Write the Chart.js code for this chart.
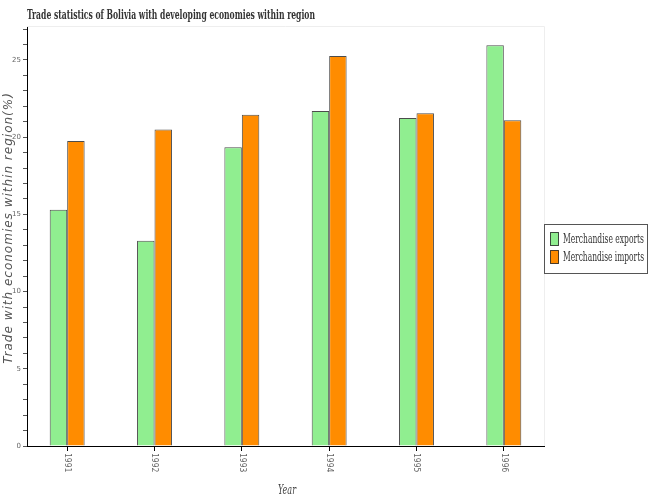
<!DOCTYPE html>
<html>
<head>
<meta charset="utf-8">
<script src="https://cdn.jsdelivr.net/npm/chart.js@4"></script>
<style>
  body { margin: 0; background: #fff; }
  #wrap { width: 650px; height: 500px; }
</style>
</head>
<body>
<div id="wrap"><canvas id="grafico" width="650" height="500"></canvas></div>
<script>
// dados
var anos = [1991, 1992, 1993, 1994, 1995, 1996];
var exportacoes = [15.3, 13.3, 19.35, 21.7, 21.25, 25.95];
var importacoes = [19.75, 20.5, 21.45, 25.25, 21.55, 21.1];
var nomesSeries = ['Merchandise exports', 'Merchandise imports'];
var titulo = 'Trade statistics of Bolivia with developing economies within region';
var tituloX = 'Year';
var tituloY = 'Trade with economies within region(%)';

var coresSeries = ['#90ee90', '#ff8c00'];
var bordaBarra = 'rgba(0, 0, 0, 0.7)';

function pontos(valores) {
    return anos.map(function (ano, i) { return { x: ano, y: valores[i] }; });
}

// escreve um texto condensado horizontalmente se passar da largura
function textoCondensado(ctx, texto, x, y, largura) {
    ctx.fontStretch = 'condensed';
    var w = ctx.measureText(texto).width;
    var k = w > largura ? largura / w : 1;
    ctx.save();
    ctx.translate(x, y);
    ctx.scale(k, 1);
    ctx.fillText(texto, 0, 0);
    ctx.restore();
}

// desenha textos, moldura e legenda
var textos = {
    id: 'textos',
    afterDraw: function (chart) {
        var ctx = chart.ctx;
        var area = chart.chartArea;
        var escalaX = chart.scales.x;
        ctx.save();

        // moldura clara em cima e a direita
        ctx.strokeStyle = '#eeeeee';
        ctx.lineWidth = 1;
        ctx.beginPath();
        ctx.moveTo(area.left, area.top + 0.5);
        ctx.lineTo(area.right + 0.5, area.top + 0.5);
        ctx.lineTo(area.right + 0.5, area.bottom);
        ctx.stroke();

        // titulo
        ctx.fillStyle = '#333';
        ctx.font = 'bold 13px "DejaVu Serif"';
        ctx.textAlign = 'left';
        ctx.textBaseline = 'alphabetic';
        textoCondensado(ctx, titulo, area.left, 19, 288);

        // rotulos do eixo x (rodados para baixo)
        ctx.fillStyle = '#666';
        ctx.font = '8px "DejaVu Sans Mono", monospace';
        for (let i = 0; i < anos.length; i++) {
            var px = escalaX.getPixelForValue(anos[i]);
            ctx.save();
            ctx.translate(px, area.bottom + 7);
            ctx.rotate(Math.PI / 2);
            ctx.textAlign = 'left';
            ctx.textBaseline = 'middle';
            ctx.fillText(String(anos[i]), 0, 0);
            ctx.restore();
        }

        // titulo do eixo x
        ctx.fillStyle = '#444';
        ctx.font = 'italic 13px "DejaVu Serif"';
        ctx.textAlign = 'left';
        textoCondensado(ctx, tituloX, 278, 494, 18);

        // titulo do eixo y
        ctx.save();
        ctx.translate(9, 228);
        ctx.rotate(-Math.PI / 2);
        ctx.fillStyle = '#555';
        ctx.font = 'italic 12px "DejaVu Sans"';
        ctx.letterSpacing = '1px';
        ctx.textAlign = 'center';
        ctx.textBaseline = 'middle';
        ctx.fillText(tituloY, 0, 0);
        ctx.restore();

        // legenda
        var lx = area.right, ly = 224;
        ctx.fillStyle = '#fff';
        ctx.fillRect(lx, ly, 104, 50);
        ctx.strokeStyle = '#555';
        ctx.strokeRect(lx + 0.5, ly + 0.5, 103, 49);
        ctx.font = '12px "DejaVu Serif"';
        ctx.textAlign = 'left';
        ctx.textBaseline = 'middle';
        for (let i = 0; i < nomesSeries.length; i++) {
            var y = ly + 15 + i * 18;
            ctx.fillStyle = coresSeries[i];
            ctx.fillRect(lx + 6.5, y - 6.5, 8, 13);
            ctx.strokeStyle = bordaBarra;
            ctx.strokeRect(lx + 6.5, y - 6.5, 8, 13);
            ctx.fillStyle = '#333';
            textoCondensado(ctx, nomesSeries[i], lx + 19, y + 1, 81);
        }
        ctx.restore();
    }
};

var ctxGrafico = document.getElementById('grafico');

new Chart(ctxGrafico, {
    type: 'bar',
    data: {
        datasets: [
            {
                label: nomesSeries[0],
                data: pontos(exportacoes),
                backgroundColor: coresSeries[0],
                borderColor: bordaBarra,
                borderWidth: 1,
                categoryPercentage: 0.4,
                barPercentage: 1
            },
            {
                label: nomesSeries[1],
                data: pontos(importacoes),
                backgroundColor: coresSeries[1],
                borderColor: bordaBarra,
                borderWidth: 1,
                categoryPercentage: 0.4,
                barPercentage: 1
            }
        ]
    },
    options: {
        responsive: false,
        animation: false,
        layout: { padding: { top: 26, right: 106, left: 0, bottom: 0 } },
        plugins: {
            legend: { display: false },
            title: { display: false },
            tooltip: { enabled: false }
        },
        scales: {
            x: {
                type: 'linear',
                min: 1990.54,
                max: 1996.46,
                offset: false,
                afterFit: function (s) { s.height = 54; },
                border: { color: '#000', width: 1 },
                grid: { offset: false, drawOnChartArea: false, tickLength: 5, color: '#000' },
                ticks: { stepSize: 1, includeBounds: false, display: false }
            },
            y: {
                min: 0,
                max: 27.2,
                afterFit: function (s) { s.width = 27; },
                border: { color: '#000', width: 1 },
                grid: { drawOnChartArea: false, tickLength: 4, color: '#555' },
                ticks: {
                    stepSize: 1,
                    includeBounds: false,
                    padding: 2,
                    color: '#666',
                    font: { family: 'DejaVu Sans', size: 7 },
                    callback: function (v) { return v % 5 === 0 ? v : ''; }
                }
            }
        }
    },
    plugins: [textos]
});
</script>
</body>
</html>
